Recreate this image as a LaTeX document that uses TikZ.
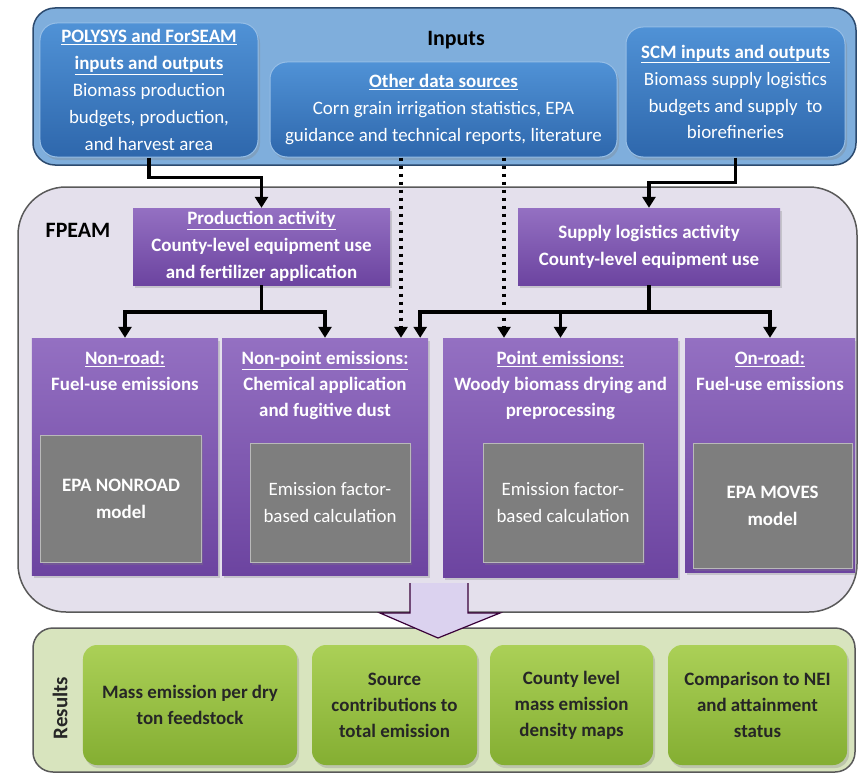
\documentclass[tikz,border=0pt]{standalone}
\usepackage{fontspec}
\setmainfont{Carlito}
\usetikzlibrary{arrows.meta,shadows}

\definecolor{inpanel}{HTML}{7FAEDC}
\definecolor{inedge}{HTML}{2C4A6E}
\definecolor{bluetop}{HTML}{5092D6}
\definecolor{bluebot}{HTML}{2E67AC}
\definecolor{fppanel}{HTML}{E4E0EC}
\definecolor{purptop}{HTML}{9470C2}
\definecolor{purpbot}{HTML}{6C44A0}
\definecolor{modgray}{HTML}{7E7E7E}
\definecolor{respanel}{HTML}{D8E4BE}
\definecolor{greentop}{HTML}{ABD057}
\definecolor{greenbot}{HTML}{84AE32}
\definecolor{arrowfill}{HTML}{DBD2EF}

\tikzset{
  txt/.style={font=\fontsize{19}{27}\selectfont, align=center},
  boxshadow/.style={drop shadow={shadow xshift=2bp,shadow yshift=-3bp,opacity=0.3}},
  inbox/.style={txt, text=white, rounded corners=17bp, top color=bluetop, bottom color=bluebot,
    draw=bluetop!60!white, line width=1bp, inner sep=0pt, boxshadow},
  actbox/.style={txt, font=\fontsize{19}{27}\selectfont\bfseries, text=white, top color=purptop,
    bottom color=purpbot, inner sep=0pt, boxshadow},
  srcbox/.style={top color=purptop, bottom color=purpbot, inner sep=0pt, boxshadow},
  srctext/.style={txt, font=\fontsize{19}{26}\selectfont\bfseries, text=white, anchor=north, yshift=-10bp},
  modbox/.style={txt, text=white, fill=modgray, draw=gray!55, line width=1bp, inner sep=0pt, boxshadow},
  resbox/.style={txt, font=\fontsize{19}{26}\selectfont\bfseries, text=black!85, rounded corners=14bp,
    top color=greentop, bottom color=greenbot, inner sep=0pt, boxshadow},
  conn/.style={line width=3.5bp, -{Triangle[width=13bp,length=11bp]}},
  dotconn/.style={conn, dash pattern=on 3.5bp off 4.5bp},
}

\begin{document}
\begin{tikzpicture}[x=1bp,y=1bp]
  \useasboundingbox (0,0) rectangle (859,-776);
  %panels
  \draw[fill=inpanel, draw=inedge, line width=1.5bp, rounded corners=22bp] (33,-8) rectangle (856,-165);
  \draw[fill=fppanel, draw=black!65, line width=1.5bp, rounded corners=48bp] (18,-187) rectangle (857,-612);
  \draw[fill=respanel, draw=black!65, line width=1.5bp, rounded corners=20bp] (33,-628) rectangle (855,-772);
  \node[font=\fontsize{22}{26}\selectfont\bfseries] (inlabel) at (456,-40) {Inputs};
  \node[font=\fontsize{22}{26}\selectfont\bfseries] (fplabel) at (78,-230) {FPEAM};
  \node[font=\fontsize{21}{26}\selectfont\bfseries, text=black!85, rotate=90] (reslabel) at (60,-708) {Results};
  %
  %inputs
  \node[inbox, minimum width=218bp, minimum height=134bp] (poly) at (149,-90)
    {\textbf{\underline{POLYSYS and ForSEAM}}\\ \textbf{\underline{inputs and outputs}}\\ Biomass production\\ budgets, production,\\ and harvest area};
  \node[inbox, minimum width=347bp, minimum height=95bp] (other) at (443.5,-109.5)
    {\textbf{\underline{Other data sources}}\\ Corn grain irrigation statistics, EPA\\ guidance and technical reports, literature};
  \node[inbox, minimum width=219bp, minimum height=130bp] (scm) at (735.5,-92)
    {\textbf{\underline{SCM inputs and outputs}}\\ Biomass supply logistics\\ budgets and supply\ \ to\\ biorefineries};
  %
  %activities
  \node[actbox, minimum width=257bp, minimum height=77bp] (prod) at (261.5,-246.5)
    {\underline{Production activity}\\ County-level equipment use\\ and fertilizer application};
  \node[actbox, minimum width=262bp, minimum height=77bp] (supply) at (649,-246.5)
    {Supply logistics activity\\ County-level equipment use};
  %
  %emission sources
  \node[srcbox, minimum width=186bp, minimum height=237bp,
    label={[srctext]north:{\underline{Non-road:}\\ Fuel-use emissions}}] (nonroad) at (125,-456.5) {};
  \node[srcbox, minimum width=206bp, minimum height=237bp,
    label={[srctext]north:{\underline{Non-point emissions:}\\ Chemical application\\ and fugitive dust}}] (nonpt) at (325,-456.5) {};
  \node[srcbox, minimum width=235bp, minimum height=239bp,
    label={[srctext]north:{\underline{Point emissions:}\\ Woody biomass drying and\\ preprocessing}}] (point) at (560.5,-457.5) {};
  \node[srcbox, minimum width=170bp, minimum height=234bp,
    label={[srctext]north:{\underline{On-road:}\\ Fuel-use emissions}}] (onroad) at (770,-455) {};
  %
  %models
  \node[modbox, font=\fontsize{19}{27}\selectfont\bfseries, minimum width=160bp, minimum height=127bp] (nrmodel) at (121,-498.5)
    {EPA NONROAD\\ model};
  \node[modbox, minimum width=160bp, minimum height=119bp] (npmodel) at (330,-502.5)
    {Emission factor-\\ based calculation};
  \node[modbox, minimum width=160bp, minimum height=119bp] (ptmodel) at (563,-502.5)
    {Emission factor-\\ based calculation};
  \node[modbox, font=\fontsize{19}{27}\selectfont\bfseries, minimum width=159bp, minimum height=125bp] (ormodel) at (772.5,-505.5)
    {EPA MOVES\\ model};
  %
  %results
  \foreach \nm/\cx/\bw/\btext in {res1/190/214/{Mass emission per dry\\ ton feedstock},
      res2/394.5/165/{Source\\ contributions to\\ total emission},
      res3/571.5/163/{County level\\ mass emission\\ density maps},
      res4/757.5/179/{Comparison to NEI\\ and attainment\\ status}} {
    \node[resbox, minimum width=\bw bp, minimum height=120bp] (\nm) at (\cx,-705) {\btext};
  }
  %
  %inputs to activities
  \draw[conn] (poly.south) -- ++(0,-20) -| (prod.north);
  \draw[conn] (scm.south) -- ++(0,-25) -| (supply.north);
  %other data sources
  \coordinate (d1) at (401,0);
  \coordinate (d2) at (504,0);
  \draw[dotconn] (other.south -| d1) -- (d1 |- nonpt.north);
  \draw[dotconn] (other.south -| d2) -- (d2 |- point.north);
  %activities to emission sources
  \draw[conn] (prod.south) -- ++(0,-27) -| (nonroad.north);
  \draw[conn] (prod.south) -- ++(0,-27) -| (nonpt.north);
  \draw[conn] (supply.south) -- ++(0,-27) -| (point.north);
  \draw[conn] (supply.south) -- ++(0,-27) -| (onroad.north);
  \draw[conn] (supply.south) -- ++(0,-27) -| ([xshift=-8bp]nonpt.north east);
  %
  %big arrow
  \fill[arrowfill] (410,-583) -- (410,-613) -- (380,-613) -- (438,-638) -- (500,-613) -- (468,-613) -- (468,-583) -- cycle;
  \draw[draw=black!55!violet, line width=1.2bp] (410,-583) -- (410,-613) -- (380,-613) -- (438,-638) -- (500,-613) -- (468,-613) -- (468,-583);
\end{tikzpicture}
\end{document}
